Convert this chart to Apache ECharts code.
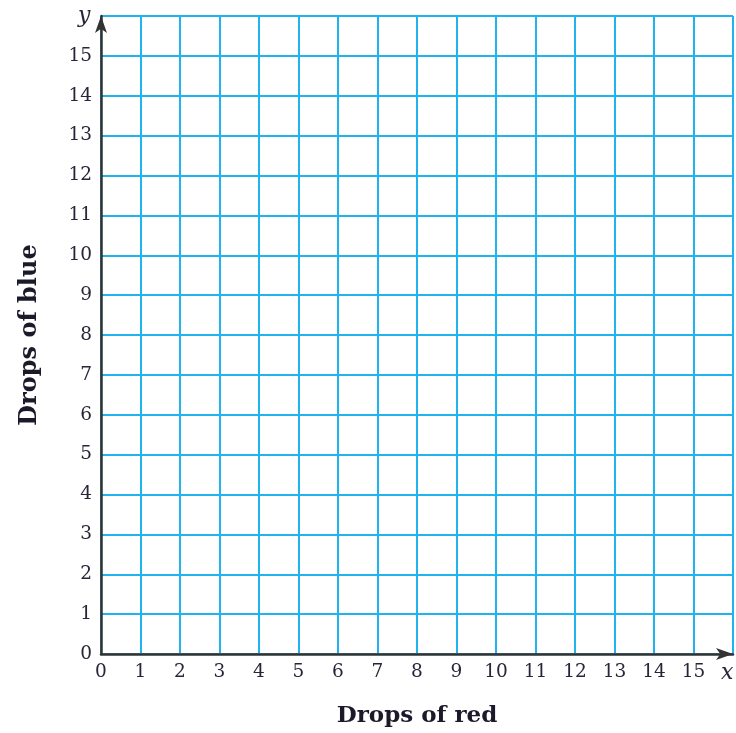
<!DOCTYPE html>
<html>
<head>
<meta charset="utf-8">
<script src="https://cdn.jsdelivr.net/npm/echarts@6/dist/echarts.min.js"></script>
<style>
html,body{margin:0;padding:0;background:#fff;}
#chart{width:736px;height:733px;}
</style>
</head>
<body>
<div id="chart"></div>
<script>
var xTickLabels = ['0','1','2','3','4','5','6','7','8','9','10','11','12','13','14','15'];
var yTickLabels = ['0','1','2','3','4','5','6','7','8','9','10','11','12','13','14','15'];
var xAxisName = 'Drops of red';
var yAxisName = 'Drops of blue';
var xRange = [0, 16];
var yRange = [0, 16];
var points = [];

var serif = '"DejaVu Serif", "Liberation Serif", serif';
var gridBlue = '#1fb4ef';

var chart = echarts.init(document.getElementById('chart'));
chart.setOption({
  animation: false,
  backgroundColor: '#ffffff',
  grid: { left: 101, top: 16, right: 2, bottom: 78, containLabel: false },
  xAxis: {
    type: 'value', min: xRange[0], max: xRange[1], interval: 1,
    name: xAxisName, nameLocation: 'middle', nameGap: 51,
    nameTextStyle: { fontFamily: serif, fontWeight: 'bold', fontSize: 23, color: '#1a1a2a' },
    axisLine: { show: true, onZero: false, symbol: ['none', 'arrow'], symbolSize: [9, 17], symbolOffset: [0, 0],
      lineStyle: { color: '#333333', width: 2.5 } },
    axisTick: { show: false },
    axisLabel: { fontFamily: serif, fontSize: 18.5, color: '#2a2438', margin: 9,
      formatter: function (v) { var s = String(v); return xTickLabels.indexOf(s) >= 0 ? s : ''; } },
    splitLine: { show: true, lineStyle: { color: gridBlue, width: 2 } }
  },
  yAxis: {
    type: 'value', min: yRange[0], max: yRange[1], interval: 1,
    name: yAxisName, nameLocation: 'middle', nameGap: 59, nameRotate: 90,
    nameTextStyle: { fontFamily: serif, fontWeight: 'bold', fontSize: 24, color: '#1a1a2a' },
    axisLine: { show: true, onZero: false, symbol: ['none', 'arrow'], symbolSize: [9, 17], symbolOffset: [0, 0],
      lineStyle: { color: '#333333', width: 2.5 } },
    axisTick: { show: false },
    axisLabel: { fontFamily: serif, fontSize: 18.5, color: '#2a2438', margin: 9,
      formatter: function (v) { var s = String(v); return yTickLabels.indexOf(s) >= 0 ? s : ''; } },
    splitLine: { show: true, lineStyle: { color: gridBlue, width: 2 } }
  },
  graphic: [
    { type: 'text', left: 78, top: 5, style: { text: 'y', font: 'italic 22px ' + serif, fill: '#2a2438' } },
    { type: 'text', left: 721, top: 662, style: { text: 'x', font: 'italic 22px ' + serif, fill: '#2a2438' } }
  ],
  series: [{ type: 'scatter', data: points }]
});
</script>
</body>
</html>
